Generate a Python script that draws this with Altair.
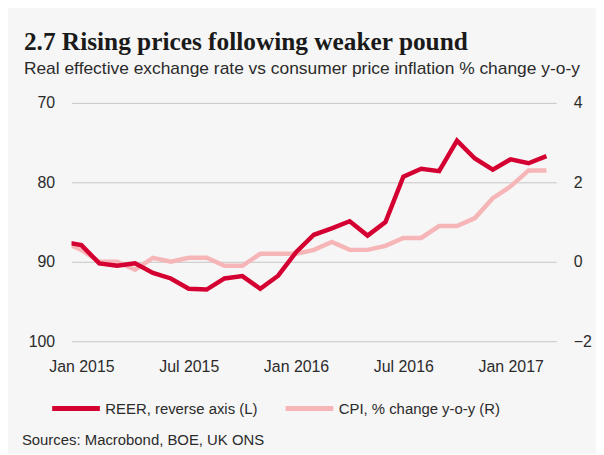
import json
import altair as alt
import pandas as pd

# ---- data ----
months = ["Dec 2014",
          "Jan 2015", "Feb 2015", "Mar 2015", "Apr 2015", "May 2015", "Jun 2015",
          "Jul 2015", "Aug 2015", "Sep 2015", "Oct 2015", "Nov 2015", "Dec 2015",
          "Jan 2016", "Feb 2016", "Mar 2016", "Apr 2016", "May 2016", "Jun 2016",
          "Jul 2016", "Aug 2016", "Sep 2016", "Oct 2016", "Nov 2016", "Dec 2016",
          "Jan 2017", "Feb 2017", "Mar 2017"]
reer = [87.5, 87.9, 90.2, 90.5, 90.2, 91.4, 92.1, 93.4, 93.5, 92.1, 91.8, 93.4, 91.75,
        88.8, 86.6, 85.8, 84.9, 86.7, 85.0, 79.3, 78.3, 78.6, 74.75, 77.0, 78.4,
        77.1, 77.6, 76.7]
cpi = [0.5, 0.3, 0.0, 0.0, -0.2, 0.1, 0.0, 0.1, 0.1, -0.1, -0.1, 0.2, 0.2,
       0.2, 0.3, 0.5, 0.3, 0.3, 0.4, 0.6, 0.6, 0.9, 0.9, 1.1, 1.6,
       1.9, 2.3, 2.3]
tick_labels = ["Jan 2015", "Jul 2015", "Jan 2016", "Jul 2016", "Jan 2017"]
tick_index = [0, 6, 12, 18, 24]
left_ticks = [70, 80, 90, 100]
right_ticks = [-2, 0, 2, 4]
series_names = ["REER, reverse axis (L)", "CPI, % change y-o-y (R)"]
series_colors = ["#d50032", "#f6b6b8"]
title_text = "2.7 Rising prices following weaker pound"
subtitle_text = "Real effective  exchange rate vs consumer price inflation % change y-o-y"
source_text = "Sources: Macrobond, BOE, UK ONS"

df = pd.DataFrame({
    "month": months,
    "idx": list(range(-1, len(months) - 1)),
    "reer": reer,
    "cpi": cpi,
})

SANS = "Liberation Sans"
TXT = "#2b2b2b"

x_enc = alt.X(
    "idx:Q",
    scale=alt.Scale(domain=[-0.55, 26.55], nice=False, zero=False),
    axis=alt.Axis(
        values=tick_index,
        labelExpr=json.dumps(tick_labels) + "[datum.value / 6]",
        title=None, grid=False, domain=False, ticks=False, tickSize=0,
        labelPadding=17, labelFontSize=16, labelFont=SANS, labelColor=TXT,
    ),
)

color_enc = alt.Color(
    "series:N",
    scale=alt.Scale(domain=series_names, range=series_colors),
    legend=alt.Legend(
        title=None, orient="none", direction="horizontal",
        legendX=-22, legendY=281,
        symbolType="stroke", symbolStrokeWidth=5, symbolSize=2304,
        labelFontSize=15, labelFont=SANS, labelColor=TXT, labelOffset=3,
        columnPadding=17, labelLimit=300,
    ),
)

reer_line = alt.Chart(df).transform_calculate(
    series=json.dumps(series_names[0])
).mark_line(strokeWidth=4.5, clip=True).encode(
    x=x_enc,
    y=alt.Y(
        "reer:Q",
        scale=alt.Scale(domain=[70, 100], reverse=True, nice=False, zero=False),
        axis=alt.Axis(
            orient="left", values=left_ticks, title=None, grid=True,
            gridColor="#c6c6c6", gridWidth=1, domain=False, ticks=False, tickSize=0,
            labelPadding=17, labelFontSize=16, labelFont=SANS, labelColor=TXT,
        ),
    ),
    color=color_enc,
)

cpi_line = alt.Chart(df).transform_calculate(
    series=json.dumps(series_names[1])
).mark_line(strokeWidth=4.5, clip=True).encode(
    x=x_enc,
    y=alt.Y(
        "cpi:Q",
        scale=alt.Scale(domain=[-2, 4], nice=False, zero=False),
        axis=alt.Axis(
            orient="right", values=right_ticks, title=None, grid=False,
            domain=False, ticks=False, tickSize=0,
            labelPadding=17, labelFontSize=16, labelFont=SANS, labelColor=TXT,
        ),
    ),
    color=color_enc,
)

source = alt.Chart(pd.DataFrame({"t": [source_text]})).mark_text(
    align="left", baseline="alphabetic", fontSize=15, font=SANS, color=TXT
).encode(x=alt.value(-50), y=alt.value(344), text="t:N")

chart = alt.layer(cpi_line, reer_line, source).resolve_scale(
    y="independent"
).properties(
    width=488,
    height=240,
    title=alt.TitleParams(
        text=title_text, subtitle=subtitle_text, anchor="start", frame="group",
        dx=-48,
        font="Liberation Serif", fontSize=25.5, fontWeight="bold", color="#1a1a1a",
        subtitleFont=SANS, subtitleFontSize=17.5, subtitleColor=TXT,
        subtitlePadding=4, offset=18,
    ),
    autosize=alt.AutoSizeParams(type="none"),
    padding={"left": 64, "top": 94, "right": 40, "bottom": 112},
    background="#f6f6f6",
).configure_view(stroke=None)

chart.save("out.html", embed_options={"renderer": "svg", "actions": False})
